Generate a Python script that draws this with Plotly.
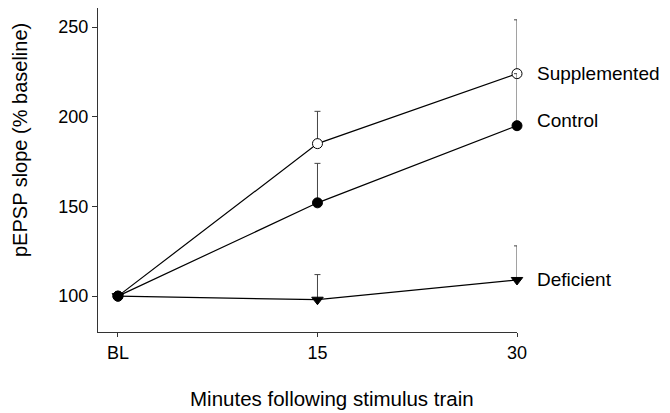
import plotly.graph_objects as go

x_vals = [0, 15, 30]
tick_labels = ["BL", "15", "30"]

supplemented = [100, 185, 224]
supplemented_err = [0, 18, 30]
control = [100, 152, 195]
control_err = [0, 22, 29]
deficient = [100, 98, 109]
deficient_err = [0, 14, 19]

series_names = ["Supplemented", "Control", "Deficient"]

FONT = "Liberation Sans, Arial, sans-serif"

W, H = 662, 405
L, R, T, B = 90, 153, 0, 81

fig = go.Figure()

def add(y, err, symbol, fill, name):
    fig.add_trace(go.Scatter(
        x=x_vals, y=y, mode="lines+markers", name=name,
        line=dict(color="black", width=1.2),
        marker=dict(symbol=symbol, size=10, color=fill,
                    line=dict(color="black", width=1)),
        error_y=dict(type="data", symmetric=False, array=err,
                     arrayminus=[0] * len(err), color="#444",
                     thickness=1, width=3),
        showlegend=False,
        cliponaxis=False,
    ))

add(supplemented, supplemented_err, "circle", "white", series_names[0])
add(control, control_err, "circle", "black", series_names[1])
add(deficient, deficient_err, "triangle-down", "black", series_names[2])

label_shift = [0, 5, 0]
for name, yv, ys in zip(series_names, [supplemented[-1], control[-1], deficient[-1]], label_shift):
    fig.add_annotation(x=30, y=yv, xref="x", yref="y", text=name,
                       showarrow=False, xanchor="left", xshift=18, yshift=ys,
                       font=dict(family=FONT, size=19, color="black"))

plot_w = W - L - R
plot_h = H - T - B
fig.add_annotation(x=(12 - L) / plot_w, y=(H - B - 132) / plot_h,
                   xref="paper", yref="paper",
                   text="pEPSP slope (% baseline)", textangle=-90,
                   xanchor="center", yanchor="middle",
                   showarrow=False, font=dict(family=FONT, size=20))
fig.add_annotation(x=(324 - L) / plot_w, y=(H - B - 390) / plot_h,
                   xref="paper", yref="paper",
                   text="Minutes following stimulus train",
                   xanchor="center", yanchor="middle",
                   showarrow=False, font=dict(family=FONT, size=20.5))

fig.update_layout(
    width=W, height=H,
    margin=dict(l=L, r=R, t=T, b=B),
    plot_bgcolor="white", paper_bgcolor="white",
    font=dict(family=FONT, size=18, color="black"),
)

fig.update_xaxes(
    range=[-1.5, 30], tickvals=x_vals, ticktext=tick_labels,
    showgrid=False, zeroline=False, showline=True, linecolor="#333",
    linewidth=1, ticks="outside", ticklen=4, tickcolor="#333",
    tickfont=dict(size=18),
)
fig.update_yaxes(
    range=[80, 260.6], tickvals=[100, 150, 200, 250],
    showgrid=False, zeroline=False, showline=True, linecolor="#333",
    linewidth=1, ticks="outside", ticklen=5, tickcolor="#333",
    tickfont=dict(size=18),
)

fig.write_html("out.html")
